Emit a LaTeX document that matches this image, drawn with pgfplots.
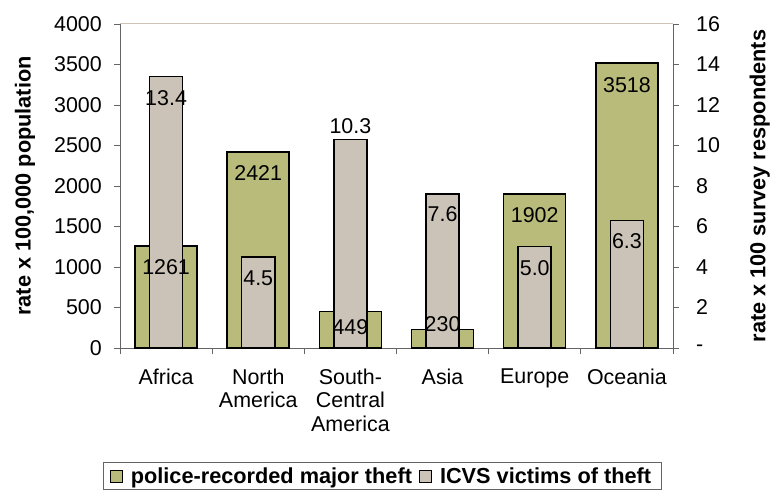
\documentclass[border=0pt]{standalone}
\usepackage{fontspec}
\setmainfont{Liberation Sans}
\usepackage{pgfplots}
\pgfplotsset{compat=1.18}
\usepackage{pgfplotstable}
\definecolor{police}{RGB}{184,187,122}
\definecolor{icvs}{RGB}{204,195,184}
\definecolor{axgray}{RGB}{100,100,100}
\definecolor{toptan}{RGB}{205,195,182}

\pgfplotstableread{
x y lab dy
0 1261 1261 -21
1 2421 2421 -21
2 449 449 -15
3 230 230 5
4 1902 1902 -21
5 3518 3518 -22
}\police
\pgfplotstableread{
x y lab dy
0 13.4 13.4 -21
1 4.5 4.5 -21
2 10.3 10.3 13
3 7.6 7.6 -20
4 5.0 5.0 -21
5 6.3 6.3 -21
}\icvs

\newcommand{\tfont}{\fontsize{21.5}{24}\selectfont}
\newcommand{\bfont}{\bfseries\fontsize{21.8}{24}\selectfont}
\pgfplotsset{
  sqlegend/.style={legend image code/.code={\draw[##1, line width=1bp] (0bp,-6bp) rectangle (12bp,6bp);}},
  base/.style={
    width=553bp, height=324bp, scale only axis,
    xmin=-0.5, xmax=5.5,
    font=\tfont,
    tick label style={font=\tfont},
    /pgf/number format/assume math mode=true,
    /pgf/number format/set thousands separator={},
    tick align=outside,
    axis line style={axgray, line width=0.8bp},
    every tick/.style={axgray, line width=0.8bp},
    major tick length=6bp, minor tick length=6bp,
    label style={font=\bfont},
  }
}

\begin{document}
\begin{tikzpicture}
\useasboundingbox (-120bp,-145bp) rectangle (654bp,348bp);
% left axis: police bars
\begin{axis}[base,
  ymin=0, ymax=4000, ytick={0,500,...,4000},
  axis x line*=bottom, axis y line*=left,
  xtick={0,...,5},
  xticklabels={Africa, North\\America, South-\\Central\\America, Asia, Europe, Oceania},
  xticklabel style={align=center, yshift=-11bp},
  yticklabel style={inner sep=0bp, xshift=-12bp},
  major x tick style={draw=none},
  minor xtick={-0.5,0.5,...,5.5},
  ylabel={rate x 100,000 population},
  ylabel style={at={(axis description cs:-0.172,0.5)}, anchor=center, rotate=0},
  legend style={at={(axis description cs:0.4747,-0.3519)}, anchor=north,
    legend columns=2, draw=axgray, line width=0.8bp,
    font=\bfont, inner xsep=6bp, inner ysep=3bp,
    nodes={inner xsep=4bp, inner ysep=2bp},
    /tikz/every odd column/.append style={column sep=4bp},
    /tikz/every even column/.append style={column sep=3bp}},
]
\addplot[ybar, bar width=62bp, fill=police, draw=black, line width=1.5bp, sqlegend]
  table[x=x, y=y]{\police};
\addlegendentry{police-recorded major theft}
\addlegendimage{fill=icvs, draw=black, sqlegend}
\addlegendentry{ICVS victims of theft}
\end{axis}
% right axis: ICVS bars
\begin{axis}[base,
  ymin=0, ymax=16, ytick={0,2,...,16},
  yticklabels={-,2,4,6,8,10,12,14,16},
  yticklabel style={inner sep=0bp, xshift=17bp},
  axis y line*=right, axis x line*=top,
  x axis line style={toptan, line width=1bp},
  xtick=\empty,
  ylabel={rate x 100 survey respondents},
  ylabel style={at={(axis description cs:1.157,0.5)}, anchor=center, rotate=0},
]
\addplot[ybar, bar width=33bp, fill=icvs, draw=black, line width=1.5bp,
  nodes near coords, point meta=explicit symbolic,
  nodes near coords align=center,
  visualization depends on={\thisrow{dy}\as\dy},
  every node near coord/.append style={yshift=\dy bp, font=\tfont, black}]
  table[x=x, y=y, meta=lab]{\icvs};
\end{axis}
% police labels on top
\begin{axis}[base, hide axis, ymin=0, ymax=4000]
\addplot[ybar, bar width=62bp, draw=none, fill=none,
  nodes near coords, point meta=explicit symbolic,
  nodes near coords align=center,
  visualization depends on={\thisrow{dy}\as\dy},
  every node near coord/.append style={yshift=\dy bp, font=\tfont, black}]
  table[x=x, y=y, meta=lab]{\police};
\end{axis}
\end{tikzpicture}
\end{document}
